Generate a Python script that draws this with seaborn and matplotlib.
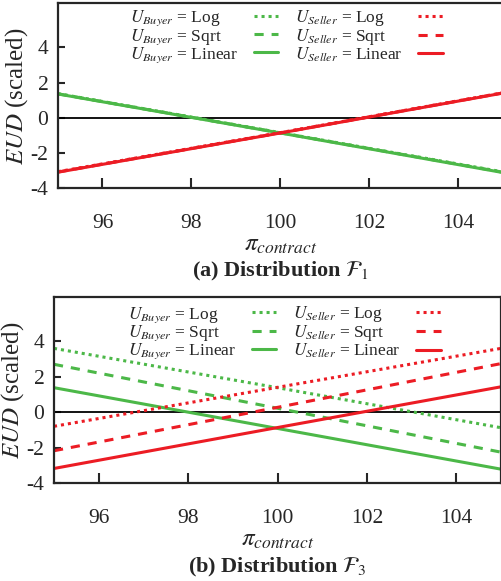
import matplotlib
matplotlib.use("Agg")
import matplotlib.pyplot as plt
import seaborn as sns
import pandas as pd

# contract price grid (lines are straight, so three points per curve)
price = [95, 100, 105]

# Distribution F1
f1_buyer_log = [1.37, -0.85, -3.08]
f1_buyer_sqrt = [1.36, -0.86, -3.10]
f1_buyer_linear = [1.35, -0.87, -3.12]
f1_seller_log = [-3.07, -0.85, 1.42]
f1_seller_sqrt = [-3.09, -0.86, 1.41]
f1_seller_linear = [-3.10, -0.87, 1.40]

# Distribution F3
f3_buyer_log = [3.60, 1.38, -0.88]
f3_buyer_sqrt = [2.70, 0.22, -2.26]
f3_buyer_linear = [1.38, -0.92, -3.22]
f3_seller_log = [-0.80, 1.40, 3.60]
f3_seller_sqrt = [-2.18, 0.27, 2.74]
f3_seller_linear = [-3.18, -0.87, 1.43]

utilities = ["Log", "Sqrt", "Linear"]
roles = ["Buyer", "Seller"]
yticks = [-4, -2, 0, 2, 4]
xticks = [96, 98, 100, 102, 104]

GREEN = "#4cb848"
RED = "#ec1c24"
DASHES = {"Log": (1.0, 1.3), "Sqrt": (3.0, 2.6), "Linear": ""}

sns.set_style("ticks")
plt.rcParams["font.family"] = ["Liberation Serif", "DejaVu Serif"]
plt.rcParams["mathtext.fontset"] = "stix"


def build_frame(series):
    rows = []
    for (role, util), vals in series.items():
        for x, y in zip(price, vals):
            rows.append({"price": x, "eud": y, "role": role, "utility": util})
    return pd.DataFrame(rows)


def draw_panel(ax, df, caption, leg_anchor):
    ax.axhline(0, color="black", lw=1.3, zorder=1)
    for role, color in zip(roles, [GREEN, RED]):
        for util in utilities:
            sub = df[(df.role == role) & (df.utility == util)]
            line = sns.lineplot(data=sub, x="price", y="eud", ax=ax, color=color,
                                lw=2.2, label=f"$U_{{{role}}}$ = {util}")
            line.lines[-1].set_dashes(DASHES[util])
    ax.set_xlim(95, 105)
    ax.set_ylim(-4, 6.5)
    ax.set_xticks(xticks)
    ax.set_yticks(yticks)
    ax.set_yticklabels([str(t) for t in yticks])
    ax.tick_params(axis="x", direction="in", length=7, width=1.5, pad=19, labelsize=15.5)
    ax.tick_params(axis="y", direction="in", length=5, width=1.5, pad=7, labelsize=15.5)
    for s in ax.spines.values():
        s.set_linewidth(1.6)
    ax.set_xlabel(r"$\pi_{contract}$", fontsize=18, va="top")
    ax.xaxis.set_label_coords(0.5, -0.25)
    ax.set_ylabel(r"$EUD$ (scaled)", fontsize=18, labelpad=0)
    leg = ax.legend(ncol=2, loc="upper left", bbox_to_anchor=leg_anchor, frameon=False,
                    markerfirst=False, fontsize=12.5, handlelength=1.4, handletextpad=0.9,
                    columnspacing=1.0, labelspacing=-0.08, borderpad=0, borderaxespad=0)
    ax.text(0.5, -0.455, caption, transform=ax.transAxes, ha="center", va="center",
            fontsize=16, fontweight="bold")
    return leg


def left_align_legend(fig, leg):
    # keep the text left aligned and the handles lined up on the right of each column
    renderer = fig.canvas.get_renderer()
    for column in leg._legend_handle_box.get_children():
        rows = column.get_children()
        widest = max(r.get_bbox(renderer).width for r in rows)
        for r in rows:
            r.width = widest
            r.mode = "expand"


fig = plt.figure(figsize=(5.02, 5.81), dpi=100)
ax1 = fig.add_axes([0.1155, 0.6764, 0.886, 0.3176])
ax2 = fig.add_axes([0.1076, 0.1687, 0.8904, 0.3201])

df1 = build_frame({
    ("Buyer", "Log"): f1_buyer_log, ("Buyer", "Sqrt"): f1_buyer_sqrt,
    ("Buyer", "Linear"): f1_buyer_linear, ("Seller", "Log"): f1_seller_log,
    ("Seller", "Sqrt"): f1_seller_sqrt, ("Seller", "Linear"): f1_seller_linear,
})
df3 = build_frame({
    ("Buyer", "Log"): f3_buyer_log, ("Buyer", "Sqrt"): f3_buyer_sqrt,
    ("Buyer", "Linear"): f3_buyer_linear, ("Seller", "Log"): f3_seller_log,
    ("Seller", "Sqrt"): f3_seller_sqrt, ("Seller", "Linear"): f3_seller_linear,
})

leg1 = draw_panel(ax1, df1, r"(a) Distribution $\mathcal{F}_1$", (0.162, 0.975))
leg2 = draw_panel(ax2, df3, r"(b) Distribution $\mathcal{F}_3$", (0.166, 0.96))

fig.canvas.draw()
left_align_legend(fig, leg1)
left_align_legend(fig, leg2)

fig.savefig("out.png", dpi=100)
